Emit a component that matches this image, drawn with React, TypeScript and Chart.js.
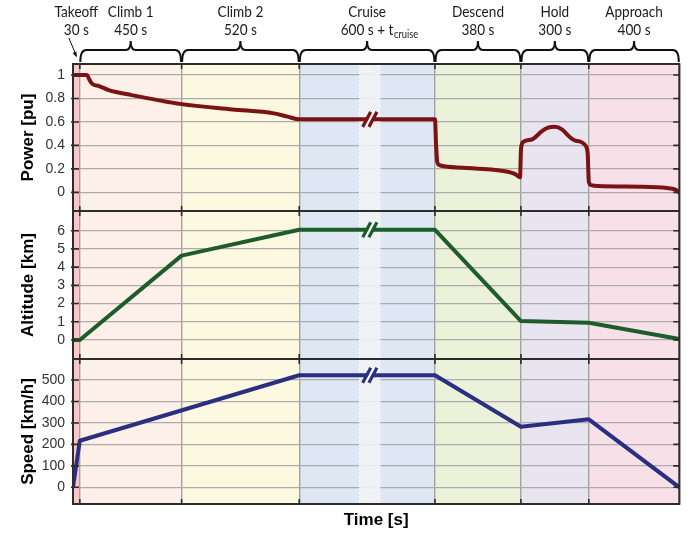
import React, { useEffect, useRef } from 'react';
import { Chart, registerables } from 'chart.js';

Chart.register(...registerables);

// ---------- data ----------
const phaseNames = ['Takeoff', 'Climb 1', 'Climb 2', 'Cruise', 'Descend', 'Hold', 'Approach'];
const phaseDurations = [30, 450, 520, 600, 380, 300, 400];

const powerTicks = [0, 0.2, 0.4, 0.6, 0.8, 1];
const altitudeTicks = [0, 1, 2, 3, 4, 5, 6];
const speedTicks = [0, 100, 200, 300, 400, 500];

const powerTime = [0, 62, 68, 75, 86, 115, 158, 259, 480, 705, 888, 949, 1000, 1600, 1605, 1610, 1620, 1640, 1775, 1922, 1955, 1976, 1980, 1984, 1992, 2032, 2070, 2100, 2130, 2161, 2191, 2214, 2244, 2265, 2275, 2280, 2290, 2320, 2511, 2626, 2660, 2680];
const powerValue = [1, 1, 0.98, 0.951, 0.923, 0.906, 0.872, 0.829, 0.752, 0.707, 0.673, 0.645, 0.622, 0.622, 0.4, 0.26, 0.232, 0.222, 0.204, 0.175, 0.155, 0.128, 0.36, 0.41, 0.432, 0.454, 0.517, 0.551, 0.559, 0.537, 0.48, 0.446, 0.431, 0.4, 0.33, 0.09, 0.062, 0.054, 0.048, 0.037, 0.025, 0];

const altitudeTime = [0, 30, 480, 1000, 1600, 1980, 2280, 2680];
const altitudeValue = [0, 0, 4.63, 6.05, 6.05, 1.04, 0.95, 0.05];

const speedTime = [0, 30, 1000, 1600, 1980, 2280, 2680];
const speedValue = [0, 217, 522, 522, 282, 317, 0];

const cruiseBreakTime = 1312;
const cruiseBreakHalf = 48;

// ---------- styles ----------
const phaseColors = ['#f7c7c9', '#fdf0e8', '#fdf8e0', '#dee7f4', '#ecf1d9', '#e8e5f0', '#f8e0e9'];
const powerColor = '#7b1214';
const altitudeColor = '#1e5c2c';
const speedColor = '#2b2f82';
const labelFont = '16px Lato, "Liberation Sans", sans-serif';
const subFont = '11px Lato, "Liberation Sans", sans-serif';
const condense = 0.85;

const bounds: number[] = [0];
phaseDurations.forEach((d) => bounds.push(bounds[bounds.length - 1] + d));
const totalTime = bounds[bounds.length - 1];

function valueAt(ts: number[], vs: number[], t: number) {
  for (let i = 1; i < ts.length; i++) {
    if (t <= ts[i]) {
      const f = (t - ts[i - 1]) / (ts[i] - ts[i - 1]);
      return vs[i - 1] + f * (vs[i] - vs[i - 1]);
    }
  }
  return vs[vs.length - 1];
}

const seriesInfo = [
  { axis: 'power', t: powerTime, v: powerValue, color: powerColor, ticks: powerTicks },
  { axis: 'altitude', t: altitudeTime, v: altitudeValue, color: altitudeColor, ticks: altitudeTicks },
  { axis: 'speed', t: speedTime, v: speedValue, color: speedColor, ticks: speedTicks },
];

function condensedText(ctx: CanvasRenderingContext2D, text: string, x: number, y: number, align: 'left' | 'center') {
  ctx.save();
  ctx.translate(x, y);
  ctx.scale(condense, 1);
  ctx.textAlign = align;
  ctx.fillText(text, 0, 0);
  ctx.restore();
}

const decor = {
  id: 'decor',
  beforeDraw(chart: any) {
    const { ctx, chartArea: ca, scales } = chart;
    const xs = scales.x;
    ctx.save();
    ctx.fillStyle = '#ffffff';
    ctx.fillRect(0, 0, chart.width, chart.height);
    for (let i = 0; i < phaseDurations.length; i++) {
      const x0 = xs.getPixelForValue(bounds[i]);
      const x1 = xs.getPixelForValue(bounds[i + 1]);
      ctx.fillStyle = phaseColors[i];
      ctx.fillRect(x0, ca.top, x1 - x0, ca.bottom - ca.top);
    }
    ctx.restore();
  },
  beforeDatasetsDraw(chart: any) {
    const { ctx, chartArea: ca, scales } = chart;
    const xs = scales.x;
    const x0 = xs.getPixelForValue(cruiseBreakTime - cruiseBreakHalf);
    const x1 = xs.getPixelForValue(cruiseBreakTime + cruiseBreakHalf);
    const w = x1 - x0;
    ctx.save();
    ctx.beginPath();
    ctx.rect(x0, ca.top, w, ca.bottom - ca.top);
    ctx.clip();
    ctx.fillStyle = 'rgba(255,255,255,0.85)';
    ctx.fillRect(x0, ca.top, w, ca.bottom - ca.top);
    ctx.strokeStyle = 'rgba(195,198,210,0.6)';
    ctx.lineWidth = 0.8;
    ctx.beginPath();
    for (let y = ca.top; y < ca.bottom + w * 2; y += 4) {
      ctx.moveTo(x0, y);
      ctx.lineTo(x1, y - w * 1.6);
    }
    ctx.stroke();
    ctx.restore();
  },
  afterDatasetsDraw(chart: any) {
    const { ctx, scales } = chart;
    const cx = scales.x.getPixelForValue(cruiseBreakTime);
    ctx.save();
    ctx.lineCap = 'butt';
    for (const s of seriesInfo) {
      const cy = scales[s.axis].getPixelForValue(valueAt(s.t, s.v, cruiseBreakTime));
      ctx.strokeStyle = '#ffffff';
      ctx.lineWidth = 2.6;
      ctx.beginPath();
      ctx.moveTo(cx - 4, cy + 7.5);
      ctx.lineTo(cx + 4, cy - 7.5);
      ctx.stroke();
      ctx.strokeStyle = s.color;
      ctx.lineWidth = 3.2;
      for (const off of [-3.1, 3.1]) {
        ctx.beginPath();
        ctx.moveTo(cx + off - 4, cy + 7.5);
        ctx.lineTo(cx + off + 4, cy - 7.5);
        ctx.stroke();
      }
    }
    ctx.restore();
  },
  afterDraw(chart: any) {
    const { ctx, chartArea: ca, scales } = chart;
    const xs = scales.x;
    ctx.save();
    // frame + separators
    ctx.strokeStyle = '#2c2c2c';
    ctx.lineWidth = 2;
    ctx.strokeRect(ca.left, ca.top, ca.right - ca.left, ca.bottom - ca.top);
    const seps: number[] = [];
    for (const s of seriesInfo) {
      const sc = scales[s.axis];
      if (sc.top > ca.top + 2) seps.push(sc.top);
    }
    ctx.beginPath();
    for (const y of seps) {
      ctx.moveTo(ca.left, y);
      ctx.lineTo(ca.right, y);
    }
    ctx.stroke();
    // y tick marks
    ctx.lineWidth = 1.6;
    ctx.beginPath();
    for (const s of seriesInfo) {
      const sc = scales[s.axis];
      for (const v of s.ticks) {
        const py = sc.getPixelForValue(v);
        ctx.moveTo(ca.left - 2, py);
        ctx.lineTo(ca.left + 6, py);
        ctx.moveTo(ca.right - 6, py);
        ctx.lineTo(ca.right, py);
      }
    }
    // x tick marks
    for (let i = 1; i < bounds.length - 1; i++) {
      const px = xs.getPixelForValue(bounds[i]);
      ctx.moveTo(px, ca.top);
      ctx.lineTo(px, ca.top + 5);
      ctx.moveTo(px, ca.bottom - 5);
      ctx.lineTo(px, ca.bottom);
      for (const y of seps) {
        ctx.moveTo(px, y - 5);
        ctx.lineTo(px, y + 5);
      }
    }
    ctx.stroke();

    // braces
    ctx.strokeStyle = '#111';
    ctx.lineWidth = 2;
    const yEnd = ca.top - 2;
    const yMid = 50;
    const yTip = 41;
    for (let i = 1; i < phaseDurations.length; i++) {
      const x0 = xs.getPixelForValue(bounds[i]) + 0.5;
      const x1 = xs.getPixelForValue(bounds[i + 1]) - 0.5;
      const xm = (x0 + x1) / 2;
      const r = 6;
      ctx.beginPath();
      ctx.moveTo(x0, yEnd);
      ctx.quadraticCurveTo(x0, yMid, x0 + r, yMid);
      ctx.lineTo(xm - 5, yMid);
      ctx.quadraticCurveTo(xm, yMid, xm, yTip);
      ctx.quadraticCurveTo(xm, yMid, xm + 5, yMid);
      ctx.lineTo(x1 - r, yMid);
      ctx.quadraticCurveTo(x1, yMid, x1, yEnd);
      ctx.stroke();
    }
    // takeoff arrow
    const tx = xs.getPixelForValue(bounds[0] + phaseDurations[0] / 2);
    ctx.lineWidth = 1;
    ctx.beginPath();
    ctx.moveTo(tx - 7.5, 38);
    ctx.lineTo(tx, 56);
    ctx.stroke();
    const ang = Math.atan2(56 - 38, 7.5);
    ctx.fillStyle = '#111';
    ctx.beginPath();
    ctx.moveTo(tx + 0.3, 57.5);
    ctx.lineTo(tx + 0.3 - 6 * Math.cos(ang - 0.35), 57.5 - 6 * Math.sin(ang - 0.35));
    ctx.lineTo(tx + 0.3 - 6 * Math.cos(ang + 0.35), 57.5 - 6 * Math.sin(ang + 0.35));
    ctx.closePath();
    ctx.fill();

    // labels
    ctx.fillStyle = '#1a1a1a';
    ctx.textBaseline = 'alphabetic';
    for (let i = 0; i < phaseNames.length; i++) {
      const cx = xs.getPixelForValue((bounds[i] + bounds[i + 1]) / 2);
      ctx.font = labelFont;
      condensedText(ctx, phaseNames[i], cx, 17, 'center');
      if (phaseNames[i] === 'Cruise') {
        const main = `${phaseDurations[i]} s + t`;
        const mw = ctx.measureText(main).width * condense;
        condensedText(ctx, main, cx - mw / 2, 35, 'left');
        ctx.font = subFont;
        condensedText(ctx, 'cruise', cx + mw / 2 + 0.5, 38, 'left');
      } else {
        condensedText(ctx, `${phaseDurations[i]} s`, cx, 35, 'center');
      }
    }
    ctx.restore();
  },
};

function yAxis(min: number, max: number, ticksArr: number[], title: string, weight: number) {
  return {
    type: 'linear',
    position: 'left',
    stack: 'panels',
    stackWeight: weight,
    min,
    max,
    afterBuildTicks: (s: any) => {
      s.ticks = ticksArr.map((v) => ({ value: v }));
    },
    afterFit: (s: any) => {
      s.width = 73;
    },
    grid: { color: '#ababab', lineWidth: 1.2, drawTicks: false },
    border: { display: false },
    ticks: {
      autoSkip: false,
      padding: 8,
      color: '#333',
      font: { size: 14, family: '"Liberation Sans", Arial, sans-serif' },
      callback: (v: any) => String(v),
    },
    title: {
      display: true,
      text: title,
      color: '#000',
      font: { size: 17, weight: 'bold', family: '"Liberation Sans", Arial, sans-serif' },
      padding: { top: 18, bottom: 0 },
    },
  };
}

export default function App() {
  const ref = useRef<HTMLCanvasElement | null>(null);
  useEffect(() => {
    if (!ref.current) return;
    const mk = (ts: number[], vs: number[]) => ts.map((t, i) => ({ x: t, y: vs[i] }));
    const chart = new Chart(ref.current, {
      type: 'line',
      data: {
        datasets: [
          { data: mk(speedTime, speedValue), yAxisID: 'speed', borderColor: speedColor, borderWidth: 4, pointRadius: 0, tension: 0, borderJoinStyle: 'round' },
          { data: mk(altitudeTime, altitudeValue), yAxisID: 'altitude', borderColor: altitudeColor, borderWidth: 4, pointRadius: 0, tension: 0, borderJoinStyle: 'round' },
          { data: mk(powerTime, powerValue), yAxisID: 'power', borderColor: powerColor, borderWidth: 4, pointRadius: 0, cubicInterpolationMode: 'monotone', borderJoinStyle: 'round' },
        ] as any,
      },
      options: {
        responsive: false,
        animation: false,
        devicePixelRatio: 1,
        events: [],
        layout: { padding: { top: 64, right: 18.7, bottom: 0, left: 0 } },
        plugins: { legend: { display: false }, tooltip: { enabled: false } },
        scales: {
          x: {
            type: 'linear',
            position: 'bottom',
            min: 0,
            max: totalTime,
            afterBuildTicks: (s: any) => {
              s.ticks = bounds.map((v) => ({ value: v }));
            },
            afterFit: (s: any) => {
              s.height = 30;
            },
            ticks: { display: false },
            grid: { color: '#a2a2a2', lineWidth: 1.4, drawTicks: false },
            border: { display: false },
            title: {
              display: true,
              text: 'Time [s]',
              color: '#000',
              font: { size: 17, weight: 'bold', family: '"Liberation Sans", Arial, sans-serif' },
              padding: { top: 0, bottom: 3 },
            },
          },
          speed: yAxis(-77.8, 597.9, speedTicks, 'Speed [km/h]', 145),
          altitude: yAxis(-1.043, 7.08, altitudeTicks, 'Altitude [km]', 148),
          power: yAxis(-0.159, 1.094, powerTicks, 'Power [pu]', 147),
        } as any,
      },
      plugins: [decor],
    });
    return () => chart.destroy();
  }, []);
  return (
    <div style={{ position: 'fixed', left: 0, top: 0, width: 698, height: 534, background: '#fff' }}>
      <canvas ref={ref} width={698} height={534} style={{ display: 'block' }} />
    </div>
  );
}
